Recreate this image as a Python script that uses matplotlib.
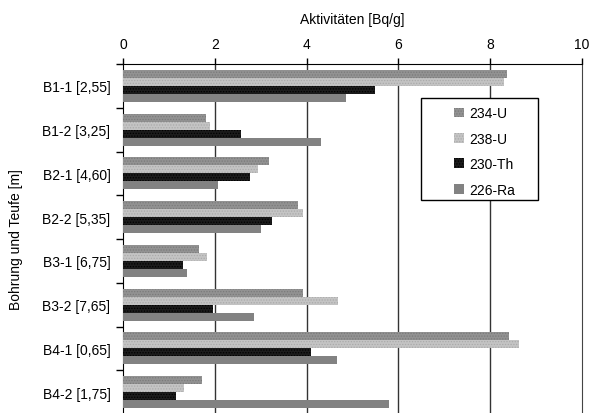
import numpy as np
import matplotlib.pyplot as plt
from matplotlib.patches import Rectangle, Patch

plt.rcParams['font.family'] = ['Liberation Sans', 'DejaVu Sans']
plt.rcParams['hatch.linewidth'] = 0.6

# data
proben = ["B1-1 [2,55]", "B1-2 [3,25]", "B2-1 [4,60]", "B2-2 [5,35]",
          "B3-1 [6,75]", "B3-2 [7,65]", "B4-1 [0,65]", "B4-2 [1,75]"]
u234 = [8.37, 1.81, 3.19, 3.82, 1.66, 3.93, 8.42, 1.72]
u238 = [8.30, 1.90, 2.95, 3.93, 1.83, 4.69, 8.62, 1.33]
th230 = [5.50, 2.58, 2.77, 3.25, 1.31, 1.96, 4.10, 1.15]
ra226 = [4.85, 4.32, 2.07, 3.01, 1.39, 2.86, 4.67, 5.79]

serien = ["234-U", "238-U", "230-Th", "226-Ra"]
werte = [u234, u238, th230, ra226]
farben = ["#929292", "#c4c4c4", "#1c1c1c", "#828282"]
hatches = ["......", "......", "......", None]
hatchfarben = ["#7a7a7a", "#aaaaaa", "#000000", "#828282"]

fig = plt.figure(figsize=(5.9, 4.14), dpi=100)
ax = fig.add_axes([123 / 590, 1 - 415 / 414, (582 - 123) / 590, (415 - 65) / 414])

y = np.arange(len(proben))
offsets = [-0.273, -0.091, 0.091, 0.273]
h = 0.182
for vals, off, fc, ht, hc, name in zip(werte, offsets, farben, hatches, hatchfarben, serien):
    bars = ax.barh(y + off, vals, height=h, color=fc, linewidth=0, label=name, zorder=3)
    if ht:
        for b in bars:
            b.set_hatch(ht)
            b.set_edgecolor(hc)

ax.set_xlim(0, 10)
ax.set_ylim(len(proben) - 0.5, -0.5)

ax.xaxis.tick_top()
ax.xaxis.set_label_position('top')
ax.set_xticks([0, 2, 4, 6, 8, 10])
ax.tick_params(axis='x', direction='out', length=4, width=1, labelsize=10, pad=5.5)
ax.set_xlabel("Aktivitäten [Bq/g]", fontsize=10, labelpad=10)

ax.set_yticks(np.arange(len(proben) + 1) - 0.5)
ax.set_yticklabels([])
ax.set_yticks(y, minor=True)
ax.set_yticklabels(proben, minor=True, fontsize=10)
ax.tick_params(axis='y', which='major', direction='out', length=5, width=1)
ax.tick_params(axis='y', which='minor', length=0, pad=9)
ax.set_ylabel("Bohrung und Teufe [m]", fontsize=10, labelpad=14)

for xv in [2, 4, 6, 8]:
    ax.axvline(xv, color="#333333", lw=1, zorder=1)

for s in ['left', 'top']:
    ax.spines[s].set_color('black')
ax.spines['right'].set_color('#444444')
ax.spines['bottom'].set_visible(False)

# legend with its own frame
x0 = (421 - 123) / (582 - 123)
x1 = (538 - 123) / (582 - 123)
y0 = 1 - (201 - 65) / 350
y1 = 1 - (99 - 65) / 350
ax.add_patch(Rectangle((x0, y0), x1 - x0, y1 - y0, transform=ax.transAxes,
                       facecolor='white', edgecolor='black', lw=1, zorder=5))
handles = []
for fc, ht, hc, name in zip(farben, hatches, hatchfarben, serien):
    handles.append(Patch(facecolor=fc, edgecolor=hc if ht else fc, hatch=ht, lw=0, label=name))
leg = ax.legend(handles=handles, loc='upper left', frameon=False, fontsize=10,
                bbox_to_anchor=((450 - 123) / 459, y1 - 0.012), borderaxespad=0,
                handlelength=0.7, handleheight=0.7, handletextpad=0.35,
                labelspacing=0.82, borderpad=0.3)
leg.set_zorder(6)

fig.savefig("out.png", dpi=100)
